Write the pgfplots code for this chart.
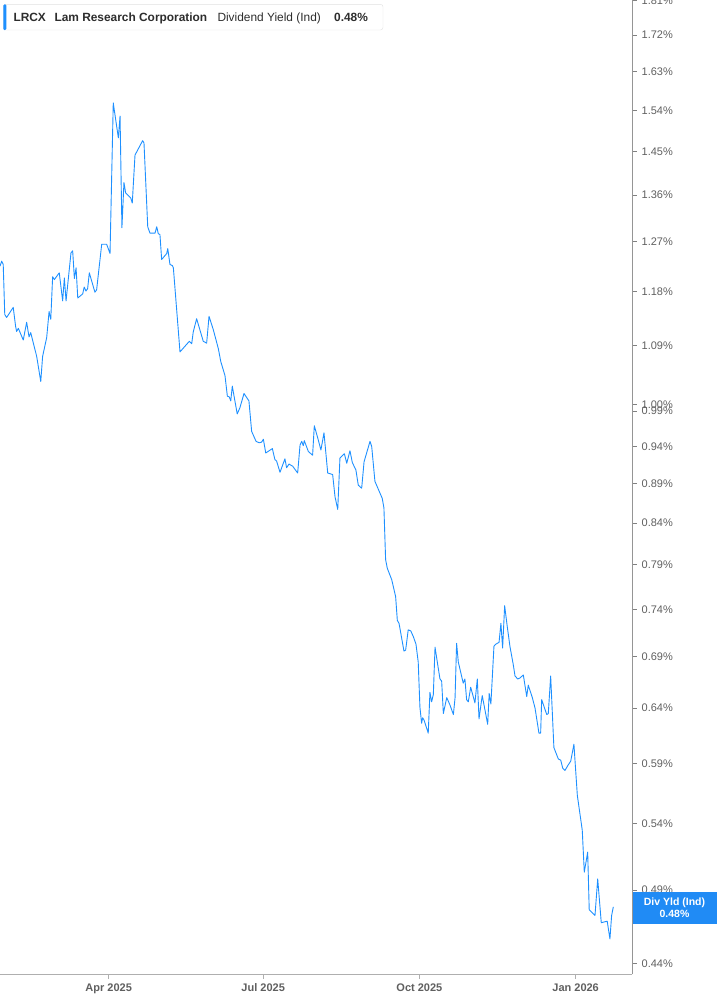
\documentclass[border=0pt]{standalone}
\usepackage{fontspec}
\setmainfont{Liberation Sans}
\usepackage{pgfplots}
\pgfplotsset{compat=1.18}
\definecolor{linecol}{RGB}{30,144,255}
\definecolor{boxcol}{RGB}{32,139,245}
\definecolor{tickcol}{RGB}{95,95,95}
\definecolor{axcol}{RGB}{175,175,175}
\definecolor{legtext}{RGB}{45,45,45}
\pgfplotstableread{
d v
26.0 1.225
27.0 1.234
27.9 1.228
28.8 1.141
29.9 1.136
33.8 1.153
35.2 1.121
35.8 1.113
36.8 1.118
39.7 1.099
41.7 1.128
43.1 1.104
44.1 1.111
47.6 1.073
50.0 1.034
51.1 1.073
53.5 1.103
54.9 1.146
55.9 1.133
57.0 1.206
58.0 1.201
60.9 1.213
62.9 1.164
63.9 1.204
64.9 1.164
67.8 1.249
68.8 1.253
69.8 1.203
70.8 1.222
71.8 1.169
74.7 1.176
75.6 1.188
76.6 1.181
77.6 1.185
78.6 1.213
81.9 1.179
82.9 1.183
85.9 1.265
88.8 1.265
90.8 1.248
92.7 1.557
95.7 1.479
96.7 1.527
97.8 1.296
99.0 1.385
100.0 1.364
103.0 1.354
103.9 1.344
105.5 1.442
110.0 1.473
110.8 1.468
113.0 1.298
114.3 1.286
117.3 1.286
118.3 1.298
119.2 1.285
120.2 1.283
121.2 1.237
124.2 1.248
124.8 1.257
126.1 1.228
127.5 1.226
128.1 1.222
132.0 1.080
137.5 1.097
138.9 1.093
139.8 1.112
141.8 1.134
145.7 1.097
147.7 1.094
149.1 1.138
151.6 1.116
154.6 1.085
156.0 1.065
158.5 1.043
159.9 1.012
161.0 1.011
161.9 1.005
162.8 1.027
165.7 0.986
167.3 0.995
169.7 1.016
172.6 1.005
174.2 0.961
176.8 0.947
178.7 0.945
180.1 0.946
181.1 0.950
182.5 0.931
186.4 0.937
187.9 0.922
188.9 0.920
190.9 0.905
193.8 0.923
194.8 0.911
196.2 0.916
198.4 0.913
201.3 0.904
202.7 0.942
203.7 0.947
204.6 0.941
205.2 0.948
207.6 0.933
210.1 0.928
211.1 0.969
213.1 0.952
215.0 0.935
216.8 0.959
219.0 0.904
221.9 0.902
223.3 0.873
224.9 0.857
226.2 0.924
228.8 0.930
230.2 0.917
232.1 0.934
233.5 0.918
235.6 0.908
237.0 0.888
239.0 0.884
240.4 0.919
243.9 0.947
244.9 0.940
246.8 0.893
251.1 0.871
252.1 0.859
253.1 0.796
254.1 0.786
256.7 0.773
259.0 0.754
260.0 0.728
261.0 0.725
263.9 0.696
264.9 0.697
266.4 0.718
267.9 0.717
269.4 0.711
271.0 0.703
272.3 0.685
273.3 0.641
274.3 0.626
274.9 0.631
275.7 0.629
278.2 0.617
279.2 0.655
280.2 0.646
281.2 0.653
282.2 0.700
283.8 0.682
285.1 0.668
286.1 0.666
287.1 0.635
289.1 0.650
291.0 0.643
293.0 0.634
294.0 0.650
294.9 0.704
295.9 0.685
298.8 0.664
299.8 0.668
300.8 0.648
301.8 0.646
303.2 0.660
305.7 0.645
307.1 0.668
308.1 0.630
310.0 0.652
313.2 0.625
314.1 0.654
315.1 0.644
316.9 0.701
317.9 0.703
319.9 0.705
321.0 0.725
322.0 0.699
323.2 0.744
324.7 0.722
326.3 0.701
328.3 0.682
329.3 0.671
330.9 0.668
332.2 0.669
334.2 0.672
336.2 0.651
337.1 0.662
339.5 0.650
341.1 0.640
343.4 0.617
344.4 0.617
345.0 0.648
348.0 0.634
348.9 0.635
350.3 0.671
352.2 0.604
354.8 0.594
356.2 0.593
357.4 0.586
358.7 0.584
360.7 0.589
362.1 0.592
364.0 0.607
366.0 0.563
368.9 0.535
370.1 0.503
372.1 0.518
373.0 0.476
376.4 0.472
378.0 0.498
380.1 0.467
383.6 0.468
385.2 0.456
386.2 0.472
387.2 0.478
}\yielddata
\begin{document}
\begin{tikzpicture}
\useasboundingbox (0pt,-1005pt) rectangle (717pt,0pt);
\begin{axis}[
  at={(0pt,0pt)}, anchor=north west,
  scale only axis, width=632pt, height=974.3pt,
  xmin=26, xmax=398.2, ymin=0.4329, ymax=1.811,
  ymode=log,
  axis x line*=bottom, axis y line*=right,
  x axis line style={draw=axcol, line width=1.5pt, -},
  y axis line style={draw=axcol!85!black, line width=0.9pt, -},
  xtick={90,181,273,365},
  xticklabels={Apr 2025,Jul 2025,Oct 2025,Jan 2026},
  ytick={0.44,0.49,0.54,0.59,0.64,0.69,0.74,0.79,0.84,0.89,0.94,0.99,1.00,1.09,1.18,1.27,1.36,1.45,1.54,1.63,1.72,1.81},
  yticklabels={0.44\%,0.49\%,0.54\%,0.59\%,0.64\%,0.69\%,0.74\%,0.79\%,0.84\%,0.89\%,0.94\%,0.99\%,1.00\%,1.09\%,1.18\%,1.27\%,1.36\%,1.45\%,1.54\%,1.63\%,1.72\%,1.81\%},
  yminorticks=false, xminorticks=false,
  tick align=outside,
  major tick length=4.5pt,
  xtick style={draw=axcol, line width=1pt},
  ytick style={draw=gray, line width=0.9pt},
  yticklabel style={font=\fontsize{11}{13}\selectfont, text=tickcol, anchor=west, inner sep=0pt, xshift=5pt},
  xticklabel style={font=\fontsize{11}{13}\selectfont\bfseries, text=tickcol, inner sep=0pt, yshift=-5pt},
]
\addplot[linecol, line width=0.9pt, line join=round] table[x=d, y=v] {\yielddata};
\end{axis}
% legend box
\draw[draw=black!12, fill=white, rounded corners=2.5pt] (3.3pt,-4.3pt) rectangle (383pt,-30pt);
\fill[linecol, rounded corners=1.2pt] (3.3pt,-4.3pt) rectangle (6.3pt,-30pt);
\begin{scope}[every node/.style={anchor=base west, inner sep=0pt, text=legtext, font=\fontsize{11.9}{14}\selectfont}]
\node at (13.3pt,-21pt) {\bfseries LRCX};
\node at (54.3pt,-21pt) {\bfseries Lam Research Corporation};
\node at (217.3pt,-21pt) {Dividend Yield (Ind)};
\node at (334pt,-21pt) {\bfseries 0.48\%};
\end{scope}
% last value box
\fill[boxcol] (633.3pt,-892pt) rectangle (717pt,-923.7pt);
\node[anchor=center, inner sep=0pt, text=white, font=\fontsize{10.5}{12}\selectfont\bfseries] at (674.5pt,-902.5pt) {Div Yld (Ind)};
\node[anchor=center, inner sep=0pt, text=white, font=\fontsize{10.5}{12}\selectfont\bfseries] at (674.5pt,-913.7pt) {0.48\%};
\end{tikzpicture}
\end{document}
